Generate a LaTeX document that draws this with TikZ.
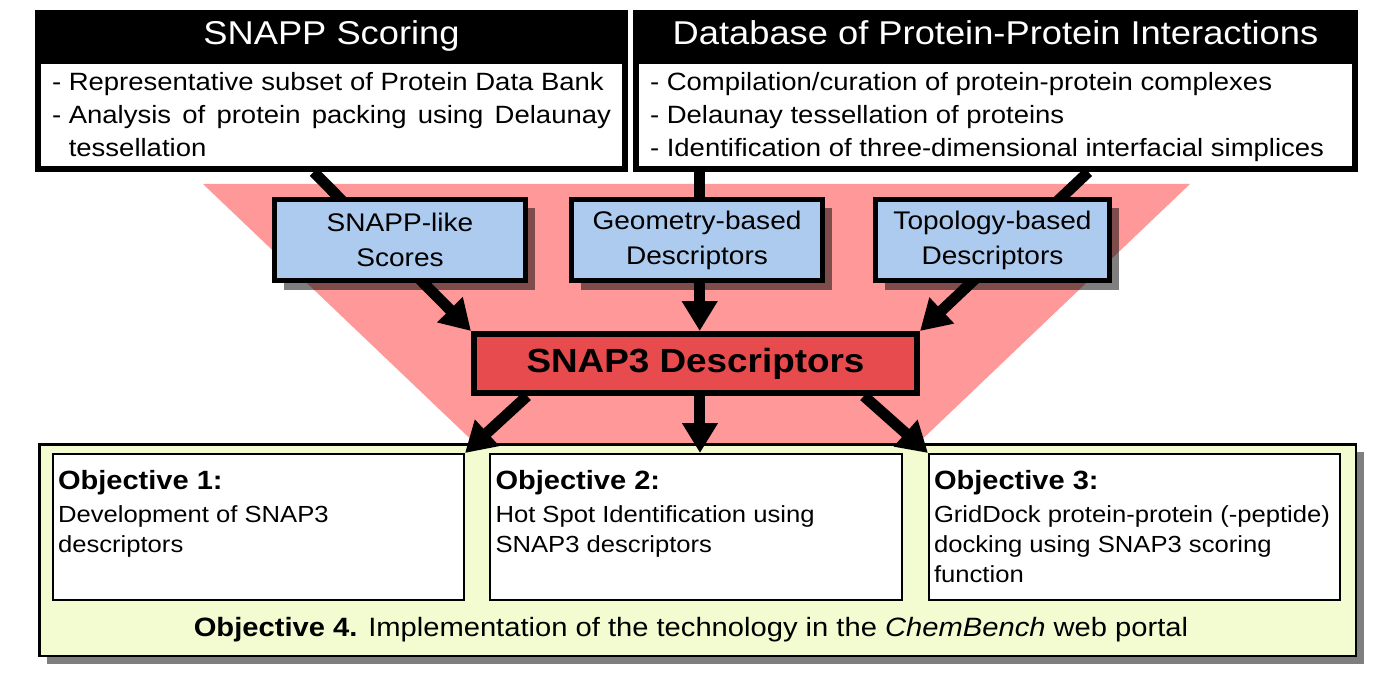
\documentclass[tikz,border=0pt]{standalone}
\usepackage{fontspec}
\setmainfont{Liberation Sans}[FakeStretch=1.1]
\usetikzlibrary{positioning, calc, arrows.meta, shadows}
\definecolor{pinkbg}{RGB}{255,153,153}
\definecolor{bluebox}{RGB}{173,203,238}
\definecolor{redbox}{RGB}{232,75,77}
\definecolor{limebg}{RGB}{242,252,208}
\tikzstyle{BigArrow} = [
%Thick black connector with a large head:
line width=11pt,
-{Triangle[length=30pt, width=34pt]}
]
\pgfdeclarelayer{background}
\pgfsetlayers{background,main}
\newcommand{\hdItem}[1]{\par\noindent\rule{0pt}{26pt}\setbox0\hbox{- }\copy0\parbox[t]{\dimexpr\hsize-\wd0\relax}{#1}}
\newcommand{\hdText}[2]{\begin{minipage}[c][100pt][t]{#1}#2\end{minipage}}
\newcommand{\objText}[2]{\begin{minipage}[c][140pt][t]{401pt}\raggedright
{\fontsize{26.4}{30}\bfseries\rule{0pt}{32pt}#1\par}
\vspace{3pt}
{\fontsize{23.3}{30}\selectfont #2\par}
\end{minipage}}

\begin{document}
\begin{tikzpicture}[x=1pt, y=-1pt,
			header/.style = {rectangle, draw, fill=white, line width=6pt, inner sep=0pt, minimum height=108pt, font=\fontsize{25}{33}\selectfont},
			headtitle/.style = {rectangle, fill=black, text=white, inner sep=0pt, minimum height=48pt, text height=25pt, text depth=4pt, font=\fontsize{33}{40}\selectfont},
			scorebox/.style = {rectangle, draw, fill=bluebox, line width=5pt, minimum width=251pt, minimum height=81pt, align=center, font=\fontsize{25.5}{35}\selectfont, drop shadow={shadow xshift=9pt, shadow yshift=-9pt, opacity=.5, fill=black}},
			snapbox/.style = {rectangle, draw, fill=redbox, line width=6pt, minimum width=443pt, minimum height=59pt, font=\fontsize{33.5}{40}\bfseries},
			panel/.style = {rectangle, draw, fill=limebg, line width=2.5pt, minimum width=1316.5pt, minimum height=211.5pt, drop shadow={shadow xshift=8pt, shadow yshift=-8pt, opacity=.5, fill=black}},
			objective/.style = {rectangle, draw, fill=white, line width=2pt, inner sep=0pt, minimum width=411pt, minimum height=146pt},
		]
		\useasboundingbox (0,0) rectangle (1381,679);
		\begin{pgfonlayer}{background}
		\fill[pinkbg] (203,184) -- (1190,184) -- (911,450) -- (482,450) -- cycle;
		\end{pgfonlayer}

		\node[header, minimum width=587pt] (HL) at (331.5,115) {\hdText{559pt}{\hdItem{Representative subset of Protein Data Bank}\hdItem{Analysis of protein packing using Delaunay tessellation}}};
		\node[header, minimum width=719pt] (HR) at (995.5,115) {\hdText{691pt}{\hdItem{Compilation/curation of protein-protein complexes}\hdItem{Delaunay tessellation of proteins}\hdItem{Identification of three-dimensional interfacial simplices}}};
		\node[headtitle, minimum width=593pt, above=0pt of HL] (HLt) {SNAPP Scoring};
		\node[headtitle, minimum width=725pt, above=0pt of HR] (HRt) {Database of Protein-Protein Interactions};

		\node[scorebox] (SL) at (400,240) {SNAPP-like\\Scores};
		\node[scorebox] (GB) at (697,240) {Geometry-based\\Descriptors};
		\node[scorebox, minimum width=234pt] (TB) at (992.5,240) {Topology-based\\Descriptors};

		\node[snapbox] (SD) at (695.5,363.5) {SNAP3 Descriptors};

		\node[panel] (PN) at (697.5,550) {};
		\node[objective] (O1) at (258.5,527) {\objText{Objective 1:}{Development of SNAP3\\descriptors}};
		\node[objective, minimum width=412pt] (O2) at (696,527) {\objText{Objective 2:}{Hot Spot Identification using\\SNAP3 descriptors}};
		\node[objective] (O3) at (1134.5,527) {\objText{Objective 3:}{GridDock protein-protein (-peptide)\\docking using SNAP3 scoring\\function}};
		\node[anchor=base, inner sep=0pt, font=\fontsize{26.5}{30}\selectfont] (O4) at (691,636) {\textbf{Objective 4.} Implementation of the technology in the \textit{ChemBench} web portal};

		\coordinate (aL) at ($(HL.south west)!0.47!(HL.south east)$);
		\coordinate (aM) at ($(HR.south west)!0.092!(HR.south east)$);
		\coordinate (aR) at ($(HR.south west)!0.628!(HR.south east)$);
		\begin{pgfonlayer}{background}
		\draw[BigArrow] (aL) -- (SD.north west);
		\draw[BigArrow] (aM) -- (aM |- SD.north);
		\draw[BigArrow] (aR) -- (SD.north east);
		\end{pgfonlayer}

		\coordinate (bL) at ($(SD.south west)!0.125!(SD.south east)$);
		\coordinate (bM) at ($(SD.south west)!0.51!(SD.south east)$);
		\coordinate (bR) at ($(SD.south west)!0.875!(SD.south east)$);
		\draw[BigArrow] (bL) -- (O1.north east);
		\draw[BigArrow] (bM) -- (bM |- O2.north);
		\draw[BigArrow] (bR) -- (O3.north west);

	\end{tikzpicture}
\end{document}
